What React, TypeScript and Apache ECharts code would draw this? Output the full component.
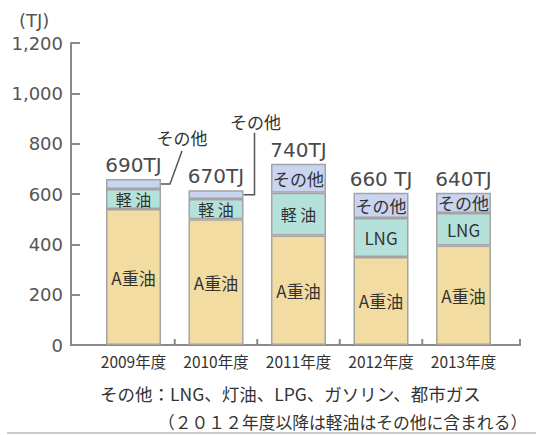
import React, { useEffect, useRef } from "react";
import * as echarts from "echarts";

// ---- data ----
const categories = ["2009年度", "2010年度", "2011年度", "2012年度", "2013年度"];
const heavyOilA: (number | null)[] = [540, 500, 435, 350, 395];
const lightOil: (number | null)[] = [80, 80, 170, null, null];
const lngValues: (number | null)[] = [null, null, null, 155, 130];
const others: (number | null)[] = [40, 35, 115, 100, 80];
const totalLabels = ["690TJ", "670TJ", "740TJ", "660 TJ", "640TJ"];
const othersCalloutIndex = [0, 1];
const yMin = 0;
const yMax = 1200;
const yInterval = 200;
const unitLabel = "(TJ)";
const footnote1 = "その他：LNG、灯油、LPG、ガソリン、都市ガス";
const footnote2 = "（２０１２年度以降は軽油はその他に含まれる）";

// ---- layout / style ----
const W = 536;
const H = 435;
const GRID = { left: 92.25, right: 31.25, top: 43, bottom: 90 };
const AXIS_X = 71;
const AXIS_END_X = 520;
const BAR_W = 55;
const CJK = "'Noto Sans CJK JP', 'Noto Sans', sans-serif";
const NUM = "'DejaVu Sans', 'Noto Sans CJK JP', sans-serif";
const C_A = "#F2DCA2";
const C_TEAL = "#B4E2DA";
const C_OTHER = "#C8D4F0";
const C_BORDER = "#A3A3A3";
const C_AXIS = "#8a8a8a";
const C_TEXT = "#333333";
// callout geometry relative to the segment's right edge / centre
const CALLOUT_SHAPES = [
  { elbow: 9, tip: [21, -33], text: [21, -46] },
  { elbow: 11, tip: [11, -62], text: [12, -73] },
];

export default function App() {
  const ref = useRef<HTMLDivElement>(null);
  useEffect(() => {
    if (!ref.current) return;
    const chart = echarts.init(ref.current, null, { renderer: "svg" });
    const segItem = (color: string) => ({ color, borderColor: C_BORDER, borderWidth: 1.5 });
    const insideLabel = (text: string, size: number) => ({
      show: true,
      position: "inside",
      formatter: text,
      color: C_TEXT,
      fontSize: size,
      fontWeight: "normal",
      fontFamily: CJK,
    });
    const option: any = {
      animation: false,
      backgroundColor: "#ffffff",
      grid: GRID,
      xAxis: {
        type: "category",
        data: categories,
        axisLine: { show: false },
        axisTick: { show: false },
        axisLabel: {
          color: C_TEXT,
          fontSize: 15.5,
          fontFamily: CJK,
          margin: 8,
          interval: 0,
          hideOverlap: false,
        },
      },
      yAxis: {
        type: "value",
        min: yMin,
        max: yMax,
        interval: yInterval,
        offset: GRID.left - AXIS_X,
        splitLine: { show: false },
        axisLine: { show: true, lineStyle: { color: C_AXIS, width: 2 } },
        axisTick: { show: true, inside: true, length: 9, lineStyle: { color: C_AXIS, width: 2 } },
        axisLabel: {
          color: "#555",
          fontSize: 18,
          fontFamily: NUM,
          margin: 8,
          formatter: (v: number) => v.toLocaleString("en-US"),
        },
      },
      series: [
        {
          name: "A重油",
          type: "bar",
          stack: "total",
          barWidth: BAR_W,
          data: heavyOilA,
          itemStyle: segItem(C_A),
          label: insideLabel("A重油", 17),
        },
        {
          name: "軽油",
          type: "bar",
          stack: "total",
          barWidth: BAR_W,
          data: lightOil,
          itemStyle: segItem(C_TEAL),
          label: insideLabel("軽 油", 16),
        },
        {
          name: "LNG",
          type: "bar",
          stack: "total",
          barWidth: BAR_W,
          data: lngValues,
          itemStyle: segItem(C_TEAL),
          label: insideLabel("LNG", 17),
        },
        {
          name: "その他",
          type: "bar",
          stack: "total",
          barWidth: BAR_W,
          data: others.map((v, i) => ({
            value: v,
            label: { show: !othersCalloutIndex.includes(i) },
          })),
          itemStyle: segItem(C_OTHER),
          label: insideLabel("その他", 17),
        },
        {
          name: "合計",
          type: "bar",
          stack: "total",
          barWidth: BAR_W,
          data: categories.map(() => 0),
          itemStyle: { color: "transparent", borderWidth: 0 },
          label: {
            show: true,
            position: "top",
            distance: 4,
            formatter: (p: any) => totalLabels[p.dataIndex],
            color: "#4a4a4a",
            fontSize: 20,
            fontWeight: "normal",
            fontFamily: NUM,
          },
        },
      ],
    };
    chart.setOption(option);

    const elements: any[] = [];
    // unit
    elements.push({
      type: "text",
      left: 19,
      top: 11,
      style: { text: unitLabel, fill: "#555", fontSize: 18, fontFamily: NUM },
    });
    // x baseline and ticks
    const baseY = H - GRID.bottom;
    elements.push({
      type: "line",
      shape: { x1: AXIS_X - 1, y1: baseY, x2: AXIS_END_X + 1, y2: baseY },
      style: { stroke: C_AXIS, lineWidth: 2 },
    });
    const band = (W - GRID.left - GRID.right) / categories.length;
    const tickXs: number[] = [];
    for (let j = 1; j < categories.length; j++) tickXs.push(GRID.left + band * j);
    tickXs.push(AXIS_END_X);
    tickXs.forEach((x) =>
      elements.push({
        type: "line",
        shape: { x1: x, y1: baseY, x2: x, y2: baseY - 6 },
        style: { stroke: C_AXIS, lineWidth: 2 },
      })
    );
    // callouts for その他
    othersCalloutIndex.forEach((i, k) => {
      const base = (heavyOilA[i] || 0) + (lightOil[i] || 0) + (lngValues[i] || 0);
      const mid = base + (others[i] || 0) / 2;
      const p = chart.convertToPixel({ gridIndex: 0 }, [categories[i], mid]) as number[];
      const x0 = p[0] + BAR_W / 2;
      const y0 = p[1];
      const s = CALLOUT_SHAPES[k];
      elements.push({
        type: "polyline",
        shape: {
          points: [
            [x0, y0],
            [x0 + s.elbow, y0],
            [x0 + s.tip[0], y0 + s.tip[1]],
          ],
        },
        style: { stroke: "#555", lineWidth: 1.5, fill: null },
      });
      elements.push({
        type: "text",
        x: x0 + s.text[0],
        y: y0 + s.text[1],
        style: {
          text: "その他",
          fill: C_TEXT,
          fontSize: 17,
          fontFamily: CJK,
          align: "center",
          verticalAlign: "middle",
        },
      });
    });
    // footnotes
    elements.push({
      type: "text",
      x: 100,
      y: 393,
      style: { text: footnote1, fill: C_TEXT, fontSize: 17.5, fontFamily: CJK, verticalAlign: "middle" },
    });
    elements.push({
      type: "text",
      x: 158,
      y: 422,
      style: { text: footnote2, fill: C_TEXT, fontSize: 16.8, fontFamily: CJK, verticalAlign: "middle" },
    });
    elements.push({
      type: "line",
      shape: { x1: 7, y1: 433, x2: W, y2: 433 },
      style: { stroke: "#cccccc", lineWidth: 2 },
    });
    chart.setOption({ graphic: { elements } });

    return () => chart.dispose();
  }, []);
  return (
    <div
      ref={ref}
      style={{ position: "fixed", left: 0, top: 0, width: W, height: H, background: "#fff" }}
    />
  );
}
